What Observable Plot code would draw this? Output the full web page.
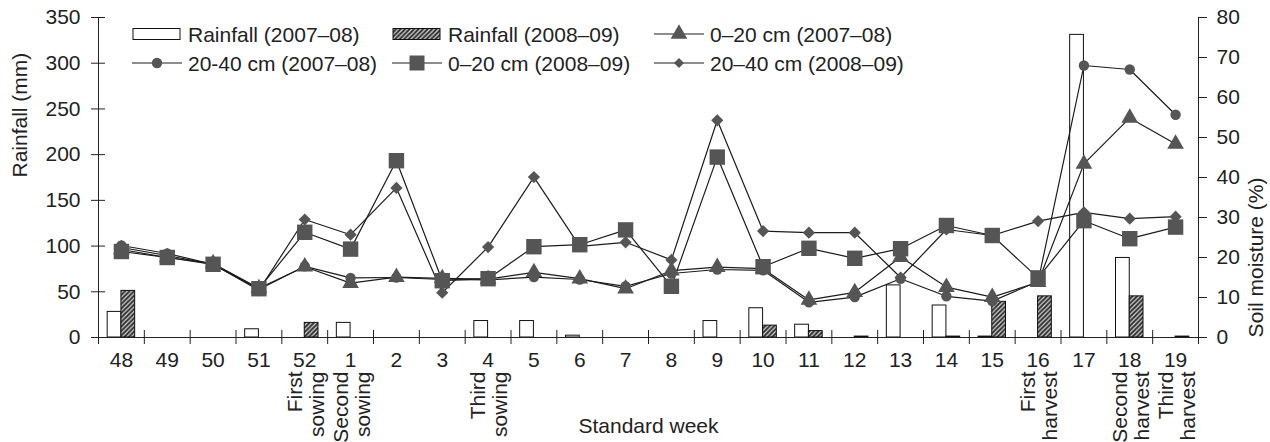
<!DOCTYPE html>
<html><head><meta charset="utf-8">
<script src="https://cdn.jsdelivr.net/npm/d3@7"></script>
<script src="https://cdn.jsdelivr.net/npm/@observablehq/plot@0.6"></script>
<style>
body{margin:0;background:#fff;}
#wrap{position:relative;width:1270px;height:442px;font-family:"Liberation Sans",Arial,sans-serif;overflow:hidden;}
.leg{position:absolute;display:flex;align-items:center;height:24px;font-size:21px;color:#222;white-space:nowrap;line-height:1;}
.leg svg{margin-right:6px;display:block;}
</style></head><body><div id="wrap"></div>
<script>
// ---- data ----
const weeks = ["48","49","50","51","52","1","2","3","4","5","6","7","8","9","10","11","12","13","14","15","16","17","18","19"];
const rain0708 = [28,0,0,9,0,16,0,0,18,18,2,0,0,18,32,14,0,57,35,1,0,331,87,0];
const rain0809 = [51,0,0,0,16,0,0,0,0,0,0,0,0,0,13,7,1,0,1,39,45,0,45,1];
const m020_0708 = [22,20,18.5,12.3,17.7,13.6,15.1,14.8,14.6,16.3,14.7,12.2,16.7,17.6,17.2,9.4,11.3,20.1,12.6,10.1,13.8,43.4,54.9,48.4];
const m2040_0708 = [23,21,18.3,12,17.8,14.9,15,14.5,14.4,15.1,14.5,12.8,16,17,16.8,8.8,10.1,14.7,10.3,9.1,14,68,67,55.7];
const m020_0809 = [21.5,20,18.3,12.2,26.3,22.1,44.2,14.2,14.7,22.7,23.2,26.9,12.8,45.1,17.7,22.3,19.8,22.2,28,25.5,14.9,29.2,24.7,27.6];
const m2040_0809 = [22.5,20.5,18.3,11.8,29.5,25.7,37.4,11.2,22.6,40.1,22.8,23.8,19.4,54.3,26.6,26.2,26.2,15,27,25.5,29.1,31.3,29.7,30.2];
const rainTicks = [0,50,100,150,200,250,300,350];
const moistTicks = [0,10,20,30,40,50,60,70,80];
const notes = [
  {week:"52", text:"First\nsowing"},
  {week:"1", text:"Second\nsowing"},
  {week:"4", text:"Third\nsowing"},
  {week:"16", text:"First\nharvest"},
  {week:"18", text:"Second\nharvest"},
  {week:"19", text:"Third\nharvest"}
];
const barLabels = ["Rainfall (2007–08)", "Rainfall (2008–09)"];
const series = [
  {name:"0–20 cm (2007–08)", values:m020_0708, symbol:"triangle", r:6.2},
  {name:"20-40 cm (2007–08)", values:m2040_0708, symbol:"circle", r:5.2},
  {name:"20–40 cm (2008–09)", values:m2040_0809, symbol:"diamond2", r:5.5},
  {name:"0–20 cm (2008–09)", values:m020_0809, symbol:"square", r:8.7}
];

// ---- build ----
const K = 350 / 80; // moisture -> rainfall axis
const rows = weeks.map((w, i) => ({i, w, r1: rain0708[i], r2: rain0809[i]}));
const lineColor = "#1c1c1c", markColor = "#555";

const marks = [
  Plot.rect(rows.filter(d => d.r1 > 0), {x1: d => d.i + 0.2, x2: d => d.i + 0.5, y1: 0, y2: "r1", fill: "white", stroke: "#111", strokeWidth: 1}),
  Plot.rect(rows.filter(d => d.r2 > 0), {x1: d => d.i + 0.5, x2: d => d.i + 0.8, y1: 0, y2: "r2", fill: "url(#hatch)", stroke: "#111", strokeWidth: 1}),
];
for (const s of series) {
  marks.push(Plot.line(rows, {x: d => d.i + 0.5, y: d => s.values[d.i] * K, stroke: lineColor, strokeWidth: 1.2}));
}
for (const s of series) {
  marks.push(Plot.dot(rows, {x: d => d.i + 0.5, y: d => s.values[d.i] * K, symbol: s.symbol, r: s.r, fill: markColor, stroke: "none"}));
}
marks.push(
  Plot.ruleX([0, 24], {stroke: "#222"}),
  Plot.ruleY([0], {stroke: "#222"}),
  Plot.axisY(rainTicks, {anchor: "left", tickSize: 7, tickPadding: 11, label: null, stroke: "#222"}),
  Plot.ruleY(rainTicks, {insetRight: 1093, stroke: "#222"}),
  Plot.axisY(moistTicks.map(v => v * K), {anchor: "right", tickSize: 8, tickPadding: 10, tickFormat: d => String(Math.round(d / K)), label: null, stroke: "#222"}),
  Plot.axisX(d3.range(0, 25), {tickSize: 7, tickFormat: () => "", label: null, stroke: "#222"}),
  Plot.ruleX(d3.range(0, 25), {insetTop: 313, stroke: "#222"}),
  Plot.axisX(weeks.map((w, i) => i + 0.5), {tickSize: 0, tickPadding: 15, tickFormat: d => weeks[Math.round(d - 0.5)], label: null}),
  Plot.text(["Rainfall (mm)"], {frameAnchor: "left", dx: -78, rotate: -90, fill: "#222"}),
  Plot.text(["Soil moisture (%)"], {frameAnchor: "right", dx: 58, rotate: -90, fill: "#222"}),
  Plot.text(["Standard week"], {frameAnchor: "bottom", dy: 95, fill: "#222"}),
  Plot.text(notes, {x: d => weeks.indexOf(d.week) + 0.5, frameAnchor: "bottom", dy: 34, dx: 1, text: "text", rotate: -90, textAnchor: "end", lineAnchor: "middle", lineHeight: 1.05, fill: "#222"})
);

const svg = Plot.plot({
  width: 1270, height: 442,
  marginLeft: 98, marginRight: 72, marginTop: 17, marginBottom: 105,
  x: {type: "linear", domain: [0, 24]},
  y: {domain: [0, 350]},
  style: {fontSize: "21px", fontFamily: "'Liberation Sans', Arial, sans-serif", color: "#222", background: "white", overflow: "visible"},
  marks
});
d3.select(svg).insert("defs", ":first-child").html(
  `<pattern id="hatch" patternUnits="userSpaceOnUse" width="4.5" height="4.5"><rect width="4.5" height="4.5" fill="#2e2e2e"/><path d="M-1,1 l2,-2 M0,4.5 l4.5,-4.5 M3.5,5.5 l2,-2" stroke="#d8d8d8" stroke-width="1.2"/></pattern>`
);
const wrap = document.getElementById("wrap");
wrap.appendChild(svg);

// ---- legend (overlay) ----
const legendItems = [
  {label: barLabels[0], left: 132, top: 34, kind: "rect", fill: "white"},
  {label: barLabels[1], left: 392, top: 34, kind: "rect", fill: "url(#hatch)"},
  {label: series[0].name, left: 654, top: 34, kind: "line", symbol: d3.symbolTriangle, size: 121},
  {label: series[1].name, left: 132, top: 63, kind: "line", symbol: d3.symbolCircle, size: 85},
  {label: series[3].name, left: 392, top: 63, kind: "line", symbol: d3.symbolSquare, size: 225},
  {label: series[2].name, left: 654, top: 63, kind: "line", symbol: d3.symbolDiamond2, size: 64}
];
for (const it of legendItems) {
  const div = document.createElement("div");
  div.className = "leg";
  div.style.left = it.left + "px";
  div.style.top = (it.top - 12) + "px";
  const s = d3.create("svg").attr("width", 50).attr("height", 24);
  if (it.kind === "rect") {
    s.append("rect").attr("x", 1).attr("y", 6.5).attr("width", 47).attr("height", 11).attr("fill", it.fill).attr("stroke", "#111");
  } else {
    s.append("line").attr("x1", 0).attr("x2", 50).attr("y1", 12).attr("y2", 12).attr("stroke", lineColor).attr("stroke-width", 1.2);
    s.append("path").attr("d", d3.symbol(it.symbol, it.size)()).attr("transform", "translate(25,12)").attr("fill", markColor);
  }
  div.appendChild(s.node());
  const sp = document.createElement("span");
  sp.textContent = it.label;
  div.appendChild(sp);
  wrap.appendChild(div);
}
</script>
</body></html>
